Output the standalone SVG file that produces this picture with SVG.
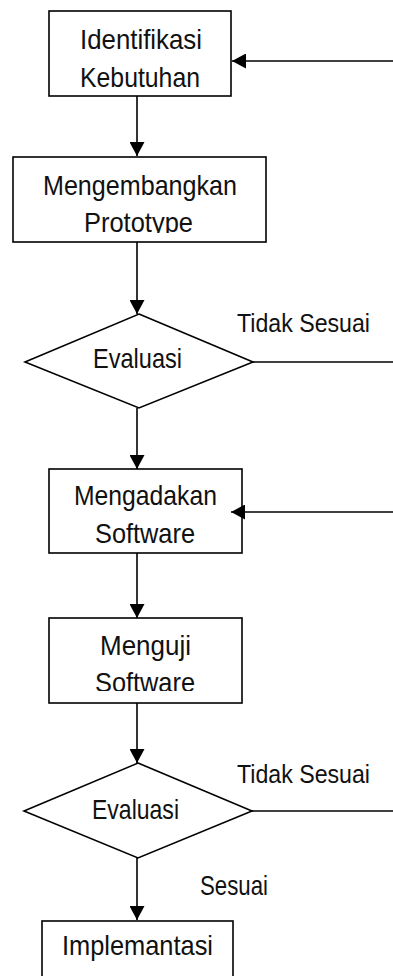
<svg xmlns="http://www.w3.org/2000/svg" width="393" height="976" viewBox="0 0 393 976">
  <style>
    .box { fill: #fff; stroke: #000; stroke-width: 1.6; }
    .lbl { font-family: "Liberation Sans", Arial, sans-serif; font-size: 28px; fill: #111; }
    .side { font-size: 26px; }
    .edge { fill: none; stroke: #000; stroke-width: 1.6; }
  </style>
  <defs>
    <marker id="arrow" markerUnits="userSpaceOnUse" markerWidth="15" markerHeight="15" viewBox="0 0 14 15" refX="14" refY="7.5" orient="auto">
      <path d="M0,0 L14,7.5 L0,15 Z" fill="#000"/>
    </marker>
    <clipPath id="clipProto"><rect x="13" y="157" width="253" height="76"/></clipPath>
    <clipPath id="clipUji"><rect x="49" y="618" width="193" height="73"/></clipPath>
  </defs>
  <rect width="393" height="976" fill="#fff"/>

  <g id="identifikasi">
    <rect class="box" x="49" y="11" width="182" height="85"/>
    <text class="lbl" x="80" y="49" textLength="122" lengthAdjust="spacingAndGlyphs">Identifikasi</text>
    <text class="lbl" x="80" y="87" textLength="120" lengthAdjust="spacingAndGlyphs">Kebutuhan</text>
  </g>

  <g id="prototype">
    <rect class="box" x="13" y="157" width="253" height="85"/>
    <g clip-path="url(#clipProto)">
      <text class="lbl" x="43" y="195" textLength="194" lengthAdjust="spacingAndGlyphs">Mengembangkan</text>
      <text class="lbl" x="84" y="232" textLength="109" lengthAdjust="spacingAndGlyphs">Prototype</text>
    </g>
  </g>

  <g id="evaluasi1">
    <polygon class="box" points="139,314 253,362 139,408 25,362"/>
    <text class="lbl" x="93" y="368" textLength="89" lengthAdjust="spacingAndGlyphs">Evaluasi</text>
  </g>

  <g id="mengadakan">
    <rect class="box" x="49" y="469" width="193" height="84"/>
    <text class="lbl" x="74" y="505" textLength="143" lengthAdjust="spacingAndGlyphs">Mengadakan</text>
    <text class="lbl" x="95" y="543" textLength="100" lengthAdjust="spacingAndGlyphs">Software</text>
  </g>

  <g id="menguji">
    <rect class="box" x="49" y="618" width="193" height="85"/>
    <g clip-path="url(#clipUji)">
      <text class="lbl" x="100" y="655" textLength="91" lengthAdjust="spacingAndGlyphs">Menguji</text>
      <text class="lbl" x="95" y="692" textLength="100" lengthAdjust="spacingAndGlyphs">Software</text>
    </g>
  </g>

  <g id="evaluasi2">
    <polygon class="box" points="138,763 252,811 138,858 24,811"/>
    <text class="lbl" x="92" y="819" textLength="87" lengthAdjust="spacingAndGlyphs">Evaluasi</text>
  </g>

  <g id="implementasi">
    <rect class="box" x="42" y="921" width="191" height="80"/>
    <text class="lbl" x="62" y="955" textLength="151" lengthAdjust="spacingAndGlyphs">Implemantasi</text>
  </g>

  <g id="connectors">
    <line class="edge" x1="393" y1="61" x2="232" y2="61" marker-end="url(#arrow)"/>
    <line class="edge" x1="137" y1="96" x2="137" y2="156" marker-end="url(#arrow)"/>
    <line class="edge" x1="137" y1="242" x2="137" y2="314" marker-end="url(#arrow)"/>
    <line class="edge" x1="137" y1="408" x2="137" y2="469" marker-end="url(#arrow)"/>
    <line class="edge" x1="253" y1="362" x2="393" y2="362"/>
    <line class="edge" x1="393" y1="512" x2="231" y2="512" marker-end="url(#arrow)"/>
    <line class="edge" x1="137" y1="553" x2="137" y2="618" marker-end="url(#arrow)"/>
    <line class="edge" x1="137" y1="703" x2="137" y2="763" marker-end="url(#arrow)"/>
    <line class="edge" x1="252" y1="811" x2="393" y2="811"/>
    <line class="edge" x1="137" y1="858" x2="137" y2="920" marker-end="url(#arrow)"/>
    <text class="lbl side" x="237" y="332" textLength="133" lengthAdjust="spacingAndGlyphs">Tidak Sesuai</text>
    <text class="lbl side" x="237" y="783" textLength="133" lengthAdjust="spacingAndGlyphs">Tidak Sesuai</text>
    <text class="lbl" x="200" y="895" textLength="68" lengthAdjust="spacingAndGlyphs">Sesuai</text>
  </g>
</svg>
